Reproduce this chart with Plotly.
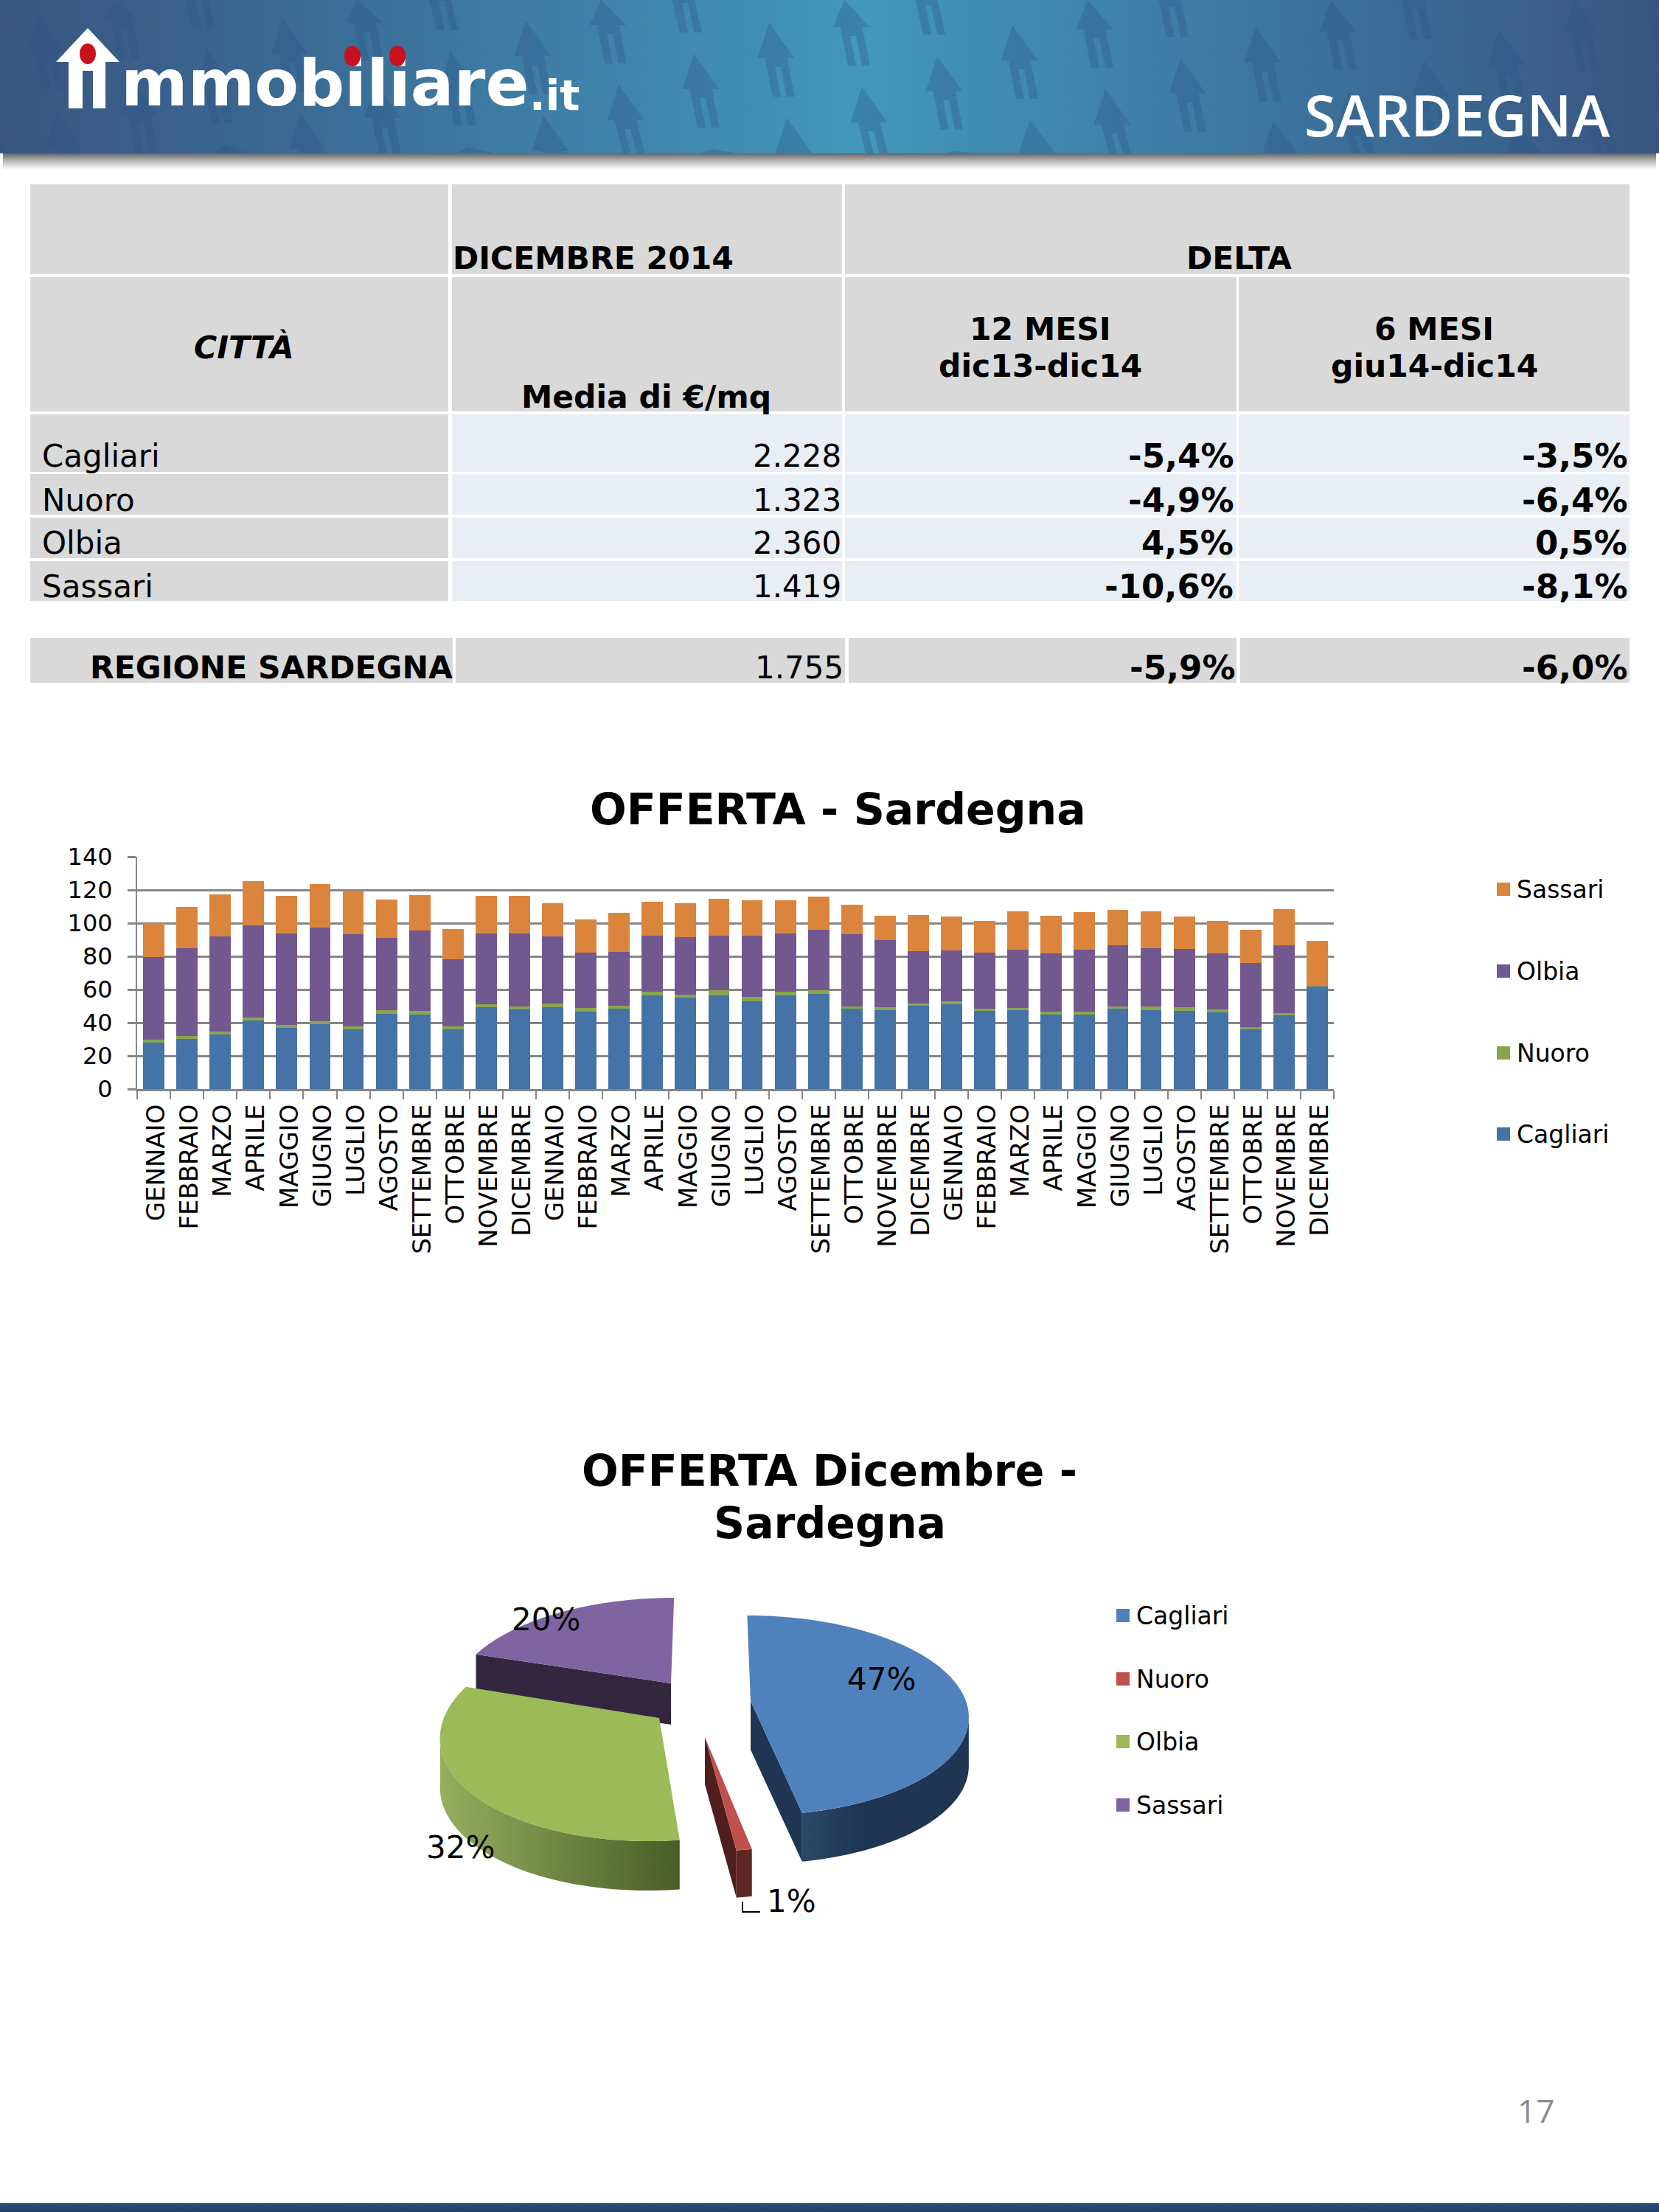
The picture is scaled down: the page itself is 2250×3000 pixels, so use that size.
import numpy as np
import plotly.graph_objects as go

# ---------- data ----------
months = ["GENNAIO","FEBBRAIO","MARZO","APRILE","MAGGIO","GIUGNO","LUGLIO","AGOSTO","SETTEMBRE","OTTOBRE","NOVEMBRE","DICEMBRE"] * 3
cagliari = [28.2,30.1,32.8,41.3,36.8,39.2,36.1,45.3,45.0,36.1,49.3,48.0,49.3,46.8,48.5,56.4,54.9,56.4,52.9,56.4,57.5,48.4,47.7,50.2,51.2,47.1,47.4,45.0,45.0,48.4,47.7,47.2,46.2,36.2,44.4,61.8]
nuoro    = [1.5,1.7,1.8,1.6,1.7,1.9,1.9,2.2,2.1,1.6,1.9,2.0,2.1,1.9,1.8,2.1,2.1,3.0,2.8,2.2,1.9,1.3,1.6,1.3,1.5,1.3,1.4,1.6,1.6,1.6,2.0,2.1,2.0,1.2,1.2,0.8]
olbia    = [50.0,53.1,57.3,55.8,55.2,56.3,55.4,43.7,48.5,40.4,42.6,43.8,40.8,33.7,32.4,34.0,34.6,32.9,36.6,35.4,36.4,43.5,40.4,31.8,30.9,33.7,35.2,35.2,37.4,36.8,35.2,35.2,33.6,38.8,40.9,0.0]
sassari  = [20.2,24.7,25.4,26.6,22.8,26.1,26.3,23.0,21.2,18.2,22.6,22.6,19.7,19.7,23.4,20.3,20.3,22.5,21.3,19.9,20.1,18.1,14.7,21.4,20.3,19.3,23.0,22.6,22.6,21.3,22.0,19.4,19.7,19.7,21.9,26.6]
series_names = ["Cagliari","Nuoro","Olbia","Sassari"]
y_ticks = [0,20,40,60,80,100,120,140]

pie_labels = ["Cagliari","Nuoro","Olbia","Sassari"]
pie_values = [47,1,32,20]

cities = ["Cagliari","Nuoro","Olbia","Sassari"]
medie = ["2.228","1.323","2.360","1.419"]
delta_12 = ["-5,4%","-4,9%","4,5%","-10,6%"]
delta_6 = ["-3,5%","-6,4%","0,5%","-8,1%"]
region = ["REGIONE SARDEGNA","1.755","-5,9%","-6,0%"]

# ---------- styles ----------
W, H = 2250, 3000
FONT = "DejaVu Sans"
BAR_COL = ["#4572A7","#89A54E","#71588F","#DB843D"]
PIE_TOP = ["#4F81BD","#C0504D","#9BBB59","#8064A2"]
PIE_WALL = ["#1F3552","#4E1F1D","#4A5C28","#32273F"]
PIE_SIDE = [[[0,"#2C4869"],[0.35,"#1F3552"],[1,"#1F3552"]],
            [[0,"#5E2725"],[1,"#5E2725"]],
            [[0,"#96AE5E"],[1,"#4A5C28"]],
            [[0,"#32273F"],[1,"#32273F"]]]
GRAY, PALE = "#D9D9D9", "#E9EDF4"
AXC = "#868686"

fig = go.Figure()
shapes, notes = [], []

def text(x, y, s, size=42, anchor="center", color="black", family=FONT, weight=None):
    f = dict(family=family, size=size, color=color)
    if weight:
        f["weight"] = weight
    notes.append(dict(x=x, y=y, xref="x", yref="y", text=s, showarrow=False, xanchor=anchor,
                      yanchor="middle", font=f))

def rect(x0, y0, x1, y1, color):
    shapes.append(dict(type="rect", xref="x", yref="y", x0=x0, y0=y0, x1=x1, y1=y1,
                       fillcolor=color, line=dict(width=0), layer="below"))

def poly(xs, ys, color=None, gradient=None):
    kw = dict(fillgradient=gradient) if gradient else dict(fillcolor=color)
    fig.add_trace(go.Scatter(x=list(xs), y=list(ys), mode="none", fill="toself", hoverinfo="skip",
                             showlegend=False, xaxis="x", yaxis="y", **kw))

# ---------- banner ----------
poly([0,W,W,0,0],[0,0,208,208,0],
     gradient=dict(type="horizontal", colorscale=[[0,"#3A5580"],[0.15,"#3A6790"],[0.52,"#4397BD"],[0.85,"#3A6A94"],[1,"#3A5580"]]))
poly([4,W-4,W-4,4,4],[208,208,230,230,208],
     gradient=dict(type="vertical", colorscale=[[0,"#FFFFFF"],[0.55,"#B5B5B5"],[1,"#666666"]]))
hx = np.array([0,25,15,15,4,4,-4,-4,-15,-15,-25,0], float)
hy = np.array([0,48,48,100,100,60,60,100,100,48,48,0], float)
xs, ys = [], []
for row in range(-1, 6):
    for col in range(-1, 9):
        ox = col*330 + 3*row - (row*105) + 155
        oy = -20 + row*42 + col*3
        xs += list(np.clip(ox + hx + 0.2*hy, 0, W)) + [None]
        ys += list(np.clip(oy + hy, 0, 208)) + [None]
fig.add_trace(go.Scatter(x=xs, y=ys, mode="none", fill="toself", fillcolor="rgba(42,84,134,0.32)",
                         hoverinfo="skip", showlegend=False, xaxis="x", yaxis="y"))
# logo: house, word as a trace so the red dots (shapes) sit on top of it
poly([119,162,143,143,126,126,112,112,93,93,76,119],[38,84,84,147,147,96,96,147,147,84,84,38], color="white")
fig.add_trace(go.Scatter(x=[164], y=[121], mode="text", text=["<b>mmobiliare</b>"], textposition="middle right",
                         textfont=dict(family=FONT, size=87, color="white"), hoverinfo="skip", showlegend=False,
                         xaxis="x", yaxis="y", cliponaxis=False))
for dot_x, dot_y in [(119,73),(478,76),(539,76)]:
    shapes.append(dict(type="circle", xref="x", yref="y", x0=dot_x-11, x1=dot_x+11, y0=dot_y-14, y1=dot_y+14,
                       fillcolor="#C8101E", line=dict(width=0)))
notes.append(dict(x=716, y=164, xref="x", yref="y", text="<b>.it</b>", showarrow=False, xanchor="left", yanchor="bottom",
                  font=dict(family=FONT, size=57, color="white")))
text(1976, 155, "SARDEGNA", size=78, color="white", family="Open Sans", weight=600)

# ---------- footer ----------
poly([0,W,W,0,0],[2988,2988,H,H,2988], gradient=dict(type="vertical", colorscale=[[0,"#1E3F66"],[1,"#2C5078"]]))
text(2083, 2862, "17", size=44, color="#8B8B8B", family="Open Sans")

# ---------- table ----------
cx = [41,608,613,1142,1146,1677,1680,2210]
rect(cx[0],250,cx[1],372,GRAY); rect(cx[2],250,cx[3],372,GRAY); rect(cx[4],250,cx[7],372,GRAY)
for c0,c1 in [(0,1),(2,3),(4,5),(6,7)]:
    rect(cx[c0],376,cx[c1],558,GRAY)
row_y = [(562,640),(643,698),(702,757),(761,815)]
row_text_y = [618,678,736,795]
for (y0,y1) in row_y:
    rect(cx[0],y0,cx[1],y1,GRAY)
    for c0,c1 in [(2,3),(4,5),(6,7)]:
        rect(cx[c0],y0,cx[c1],y1,PALE)
for x0,x1 in [(41,614),(618,1146),(1151,1677),(1682,2210)]:
    rect(x0,865,x1,926,GRAY)

text(612,350,"<b>DICEMBRE 2014</b>",size=42.5,anchor="left")
text(1680,350,"<b>DELTA</b>",size=42.5)
text(331,471,"<b><i>CITTÀ</i></b>",size=42.5)
text(876,538,"<b>Media di €/mq</b>",size=42.5)
text(1411,446,"<b>12 MESI</b>",size=42.5); text(1411,496,"<b>dic13-dic14</b>",size=42.5)
text(1945,446,"<b>6 MESI</b>",size=42.5); text(1945,496,"<b>giu14-dic14</b>",size=42.5)
for i,y in enumerate(row_text_y):
    text(55,y,cities[i],anchor="left")
    text(1143,y,medie[i],anchor="right")
    text(1675,y,f"<b>{delta_12[i]}</b>",size=45,anchor="right")
    text(2209,y,f"<b>{delta_6[i]}</b>",size=45,anchor="right")
text(616,905,f"<b>{region[0]}</b>",size=42.5,anchor="right")
text(1146,905,region[1],anchor="right")
text(1677,905,f"<b>{region[2]}</b>",size=45,anchor="right")
text(2209,905,f"<b>{region[3]}</b>",size=45,anchor="right")

# ---------- stacked bars ----------
idx = list(range(len(months)))
for name, vals, col in zip(series_names,[cagliari,nuoro,olbia,sassari],BAR_COL):
    fig.add_trace(go.Bar(x=idx,y=vals,name=name,marker=dict(color=col,line=dict(width=0)),
                         xaxis="x2",yaxis="y2",showlegend=False,hoverinfo="skip"))
text(1136,1098,"<b>OFFERTA - Sardegna</b>",size=58.5)
for name,col,y in zip(series_names[::-1],BAR_COL[::-1],[1206,1317,1428,1538]):
    rect(2030,y-9,2048,y+9,col)
    text(2055,y,name,size=33,anchor="left")

# ---------- exploded 3D pie, projected from the values ----------
RX, K = 292, 0.144
PIE_RY = [132.7,132.7,143,132.7]
PIE_ORIGIN = [(1018,2307),(956,2356),(894,2330),(910,2283)]
PIE_DEPTH = [66,64,67,56]
PIE_LEAN = [0.04,0.0,-0.09,-0.036]
def project(i, th):
    o = PIE_ORIGIN[i]
    sx, cy = np.sin(th), np.cos(th)
    d = 1 + K*cy
    dy = -PIE_RY[i]*cy/d
    return o[0] + RX*sx/d + PIE_LEAN[i]*dy, o[1] + dy
limit = np.arccos(-K)
order = [3,2,0,1]
edges = np.cumsum([0]+pie_values)/sum(pie_values)*2*np.pi
for i in order:
    a0, a1 = edges[i], edges[i+1]
    o, dep = PIE_ORIGIN[i], PIE_DEPTH[i]
    if np.sin(a1) > 1e-6:
        ex, ey = project(i,a1)
        poly([o[0],ex,ex,o[0],o[0]],[o[1],ey,ey+dep,o[1]+dep,o[1]],color=PIE_WALL[i])
    if np.sin(a0) < -1e-6:
        ex, ey = project(i,a0)
        poly([o[0],ex,ex,o[0],o[0]],[o[1],ey,ey+dep,o[1]+dep,o[1]],color=PIE_WALL[i])
    s0, s1 = max(a0,limit), min(a1,2*np.pi-limit)
    if s1 > s0:
        t = np.linspace(s0,s1,60)
        px, py = project(i,t)
        poly(np.r_[px,px[::-1],px[0]],np.r_[py,py[::-1]+dep,py[0]],gradient=dict(type="horizontal",colorscale=PIE_SIDE[i]))
    t = np.linspace(a0,a1,max(4,int(pie_values[i]*4)))
    px, py = project(i,t)
    poly(np.r_[o[0],px,o[0]],np.r_[o[1],py,o[1]],color=PIE_TOP[i])

text(1125,1995,"<b>OFFERTA Dicembre -</b>",size=58.5)
text(1125,2066,"<b>Sardegna</b>",size=58.5)
for v,(x,y) in zip(pie_values,[(1195,2277),(1073,2578),(624,2505),(740,2196)]):
    text(x,y,f"{v}%",size=42)
shapes.append(dict(type="path",xref="x",yref="y",path="M1007,2580 L1007,2593 L1031,2593",line=dict(color="black",width=2)))
for name,col,y in zip(pie_labels,PIE_TOP,[2191,2277,2362,2448]):
    rect(1514,y-9,1532,y+9,col)
    text(1539,y,name,size=33,anchor="left")

# ---------- layout ----------
hidden = dict(visible=False, showgrid=False, zeroline=False, automargin=False)
fig.update_layout(
    template="none", autosize=False,
    width=W, height=H, margin=dict(l=0,r=0,t=0,b=0,pad=0,autoexpand=False), paper_bgcolor="white", plot_bgcolor="rgba(0,0,0,0)",
    barmode="stack", bargap=0.36, showlegend=False, shapes=shapes, annotations=notes,
    font=dict(family=FONT,color="black"),
    xaxis=dict(range=[0,W],domain=[0,1],fixedrange=True,**hidden),
    yaxis=dict(range=[H,0],domain=[0,1],fixedrange=True,**hidden),
    xaxis2=dict(domain=[186/W,1809/W],range=[-0.5,35.5],anchor="y2",tickmode="array",tickvals=[i+0.08 for i in idx],ticktext=months,automargin=False,
                tickangle=-90,ticks="",ticklabelstandoff=4,tickfont=dict(size=34,family=FONT,color="black"),
                showgrid=False,zeroline=False,showline=True,linecolor=AXC,linewidth=3,
                minor=dict(tickmode="array",tickvals=[i-0.5 for i in range(37)],ticks="outside",ticklen=11,tickwidth=2,tickcolor=AXC,showgrid=False)),
    yaxis2=dict(domain=[1-1477/H,1-1162/H],range=[0,140],anchor="x2",tickmode="array",tickvals=y_ticks,automargin=False,
                ticks="outside",ticklen=11,tickwidth=3,tickcolor=AXC,ticklabelstandoff=14,
                tickfont=dict(size=32,family=FONT,color="black"),showgrid=True,gridcolor=AXC,gridwidth=3,
                zeroline=False,showline=True,linecolor=AXC,linewidth=2),
)
fig.write_html("out.html", config=dict(displayModeBar=False),
               post_script="document.body.style.margin='0';document.body.style.overflow='hidden';")
